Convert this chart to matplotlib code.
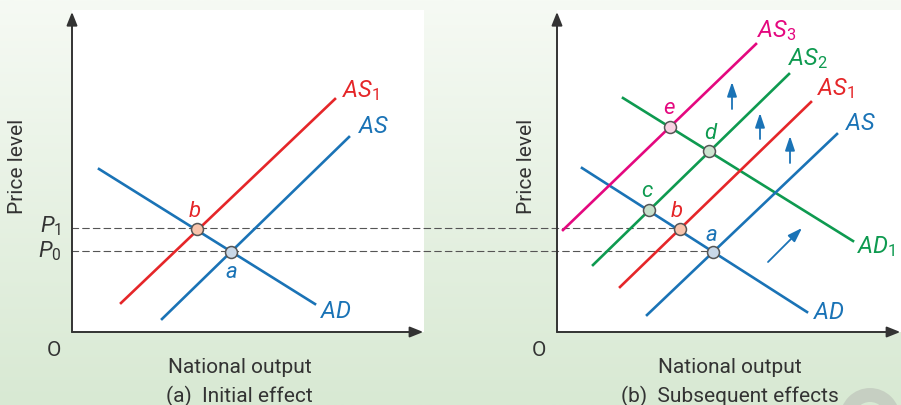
import numpy as np
import matplotlib.pyplot as plt
from matplotlib.patches import Rectangle, Circle, ConnectionPatch

plt.rcParams['font.family'] = ['Roboto', 'Liberation Sans', 'DejaVu Sans']
plt.rcParams['mathtext.fontset'] = 'custom'
plt.rcParams['mathtext.rm'] = 'Roboto'
plt.rcParams['mathtext.it'] = 'Roboto:italic'

# colours
BLUE = '#1a73b6'
RED = '#e52629'
GREEN = '#0e9a50'
PINK = '#e4087f'
AXIS = '#333333'

# price levels
P0 = 8.05
P1 = 10.35

# panel (a): curves as [x0, x1], [y0, y1]
a_ad_x, a_ad_y = [2.7, 24.3], [16.3, 2.8]
a_as_x, a_as_y = [9.0, 27.7], [1.3, 19.5]
a_as1_x, a_as1_y = [4.9, 26.3], [2.9, 23.3]
a_pts_x = [15.9, 12.5]
a_pts_y = [P0, P1]
a_pts_names = ['a', 'b']

# panel (b)
b_ad_x, b_ad_y = [2.5, 25.0], [16.4, 2.0]
b_ad1_x, b_ad1_y = [6.6, 29.6], [23.4, 9.1]
b_as_x, b_as_y = [9.0, 28.0], [1.7, 19.8]
b_as1_x, b_as1_y = [6.3, 25.4], [4.5, 23.0]
b_as2_x, b_as2_y = [3.6, 23.2], [6.7, 25.8]
b_as3_x, b_as3_y = [0.6, 19.9], [10.2, 28.8]
b_pts_x = [15.6, 12.3, 9.2, 15.2, 11.3]
b_pts_y = [P0, P1, 12.2, 18.1, 20.5]
b_pts_names = ['a', 'b', 'c', 'd', 'e']

# shift arrows in panel (b)
up_x = [17.5, 20.3, 23.3]
up_y0 = [22.3, 19.3, 16.9]
up_y1 = [25.0, 21.9, 19.6]
diag_x = [21.1, 24.5]
diag_y = [7.0, 10.4]

marker_fill = {'a': '#c9d8e8', 'b': '#f8c4ac', 'c': '#c7dfcb',
               'd': '#cde4d0', 'e': '#f8d2e2'}
label_col = {'a': BLUE, 'b': RED, 'c': GREEN, 'd': GREEN, 'e': PINK}

fig = plt.figure(figsize=(9.01, 4.05), dpi=100)

# background gradient
bg = fig.add_axes([0, 0, 1, 1], zorder=-1)
grad = np.linspace(0, 1, 256).reshape(-1, 1)
top = np.array([246, 250, 244]) / 255
bot = np.array([216, 233, 211]) / 255
img = top + (bot - top) * grad[:, :, None]
bg.imshow(img, aspect='auto', extent=[0, 901, 405, 0])
bg.set_xlim(0, 901)
bg.set_ylim(405, 0)
bg.axis('off')
bg.add_patch(Circle((870, 418), 23, fill=False, lw=10, ec='#c6cfc2'))

ax_a = fig.add_axes([72 / 901, 73 / 405, 352 / 901, 322 / 405], zorder=1)
ax_b = fig.add_axes([557 / 901, 73 / 405, 344 / 901, 322 / 405], zorder=1)
ax_a.set_xlim(0, 35.2)
ax_b.set_xlim(0, 34.4)

for ax in (ax_a, ax_b):
    pos = ax.get_position()
    bg.add_patch(Rectangle((pos.x0, pos.y0), pos.width, pos.height,
                           transform=fig.transFigure, fc='white', ec='none'))
    ax.set_facecolor('none')
    ax.set_ylim(0, 32.2)
    for s in ax.spines.values():
        s.set_visible(False)
    ax.set_xticks([])
    ax.set_yticks([])
    arrow = dict(arrowstyle='-|>,head_length=0.8,head_width=0.32',
                 mutation_scale=10, lw=1.4, color=AXIS, shrinkA=0, shrinkB=0)
    ax.annotate('', xy=(0, 0.994), xytext=(0, 0), xycoords='axes fraction',
                arrowprops=arrow, annotation_clip=False)
    ax.annotate('', xy=(0.998, 0), xytext=(0, 0), xycoords='axes fraction',
                arrowprops=arrow, annotation_clip=False)

LW = 1.9


def curve_label(ax, x, y, text, color):
    ax.text(x, y, text, color=color, fontsize=17, style='italic',
            ha='left', va='baseline', clip_on=False)


def points(ax, xs, ys, names, label_pos):
    for x, y, n in zip(xs, ys, names):
        ax.plot(x, y, 'o', ms=8.6, mfc=marker_fill[n], mec='#555555',
                mew=1.1, zorder=5)
        lx, ly = label_pos[n]
        ax.text(lx, ly, n, color=label_col[n], fontsize=16, style='italic',
                ha='center', va='baseline')


# ---- panel (a)
ax_a.plot(a_ad_x, a_ad_y, color=BLUE, lw=LW)
ax_a.plot(a_as_x, a_as_y, color=BLUE, lw=LW)
ax_a.plot(a_as1_x, a_as1_y, color=RED, lw=LW)
curve_label(ax_a, 27.0, 23.5, r'$AS_{\mathrm{1}}$', RED)
curve_label(ax_a, 28.6, 19.9, r'$AS$', BLUE)
curve_label(ax_a, 24.8, 1.4, r'$AD$', BLUE)
points(ax_a, a_pts_x, a_pts_y, a_pts_names,
       {'a': (15.9, 5.4), 'b': (12.3, 11.5)})

ax_a.text(-1.1, P1 - 0.4, r'$P_{\mathrm{1}}$', fontsize=16, color=AXIS,
          ha='right', va='baseline')
ax_a.text(-1.1, P0 - 0.6, r'$P_{\mathrm{0}}$', fontsize=16, color=AXIS,
          ha='right', va='baseline')

# ---- panel (b)
ax_b.plot(b_ad_x, b_ad_y, color=BLUE, lw=LW)
ax_b.plot(b_ad1_x, b_ad1_y, color=GREEN, lw=LW)
ax_b.plot(b_as_x, b_as_y, color=BLUE, lw=LW)
ax_b.plot(b_as1_x, b_as1_y, color=RED, lw=LW)
ax_b.plot(b_as2_x, b_as2_y, color=GREEN, lw=LW)
ax_b.plot(b_as3_x, b_as3_y, color=PINK, lw=LW)
curve_label(ax_b, 20.0, 29.5, r'$AS_{\mathrm{3}}$', PINK)
curve_label(ax_b, 23.1, 26.7, r'$AS_{\mathrm{2}}$', GREEN)
curve_label(ax_b, 26.0, 23.7, r'$AS_{\mathrm{1}}$', RED)
curve_label(ax_b, 28.8, 20.2, r'$AS$', BLUE)
curve_label(ax_b, 30.0, 7.9, r'$AD_{\mathrm{1}}$', GREEN)
curve_label(ax_b, 25.6, 1.3, r'$AD$', BLUE)

small_arrow = dict(arrowstyle='-|>,head_length=0.86,head_width=0.29',
                   mutation_scale=10, lw=1.3, color=BLUE, shrinkA=0, shrinkB=0)
for x, y0, y1 in zip(up_x, up_y0, up_y1):
    ax_b.annotate('', xy=(x, y1), xytext=(x, y0), arrowprops=small_arrow)
ax_b.annotate('', xy=(diag_x[1], diag_y[1]), xytext=(diag_x[0], diag_y[0]),
              arrowprops=small_arrow)

points(ax_b, b_pts_x, b_pts_y, b_pts_names,
       {'a': (15.4, 9.1), 'b': (12.0, 11.5), 'c': (9.0, 13.5),
        'd': (15.3, 19.3), 'e': (11.2, 21.8)})

# dashed price lines run from panel (a) axis over to panel (b) points
for level, xb in ((P1, b_pts_x[1]), (P0, b_pts_x[0])):
    con = ConnectionPatch(xyA=(0, level), coordsA=ax_a.transData,
                          xyB=(xb, level), coordsB=ax_b.transData,
                          color='#555555', lw=0.8, linestyle=(0, (6, 3.6)),
                          zorder=0.5)
    fig.add_artist(con)

# axis texts
for ax, xl, xc, cap in ((ax_a, -5.45, 16.75, '(a)  Initial effect'),
                        (ax_b, -3.1, 17.3, '(b)  Subsequent effects')):
    ax.text(xl, 16.6, 'Price level', rotation=90, fontsize=15, color=AXIS,
            ha='center', va='center', clip_on=False)
    ax.text(-1.8, -1.8, 'O', fontsize=15, color=AXIS, ha='center',
            va='center', clip_on=False)
    ax.text(xc, -4.07, 'National output', fontsize=15, color=AXIS,
            ha='center', va='baseline', clip_on=False)
    ax.text(xc, -7.0, cap, fontsize=15, color=AXIS, ha='center',
            va='baseline', clip_on=False)

fig.savefig('out.png', dpi=100)
